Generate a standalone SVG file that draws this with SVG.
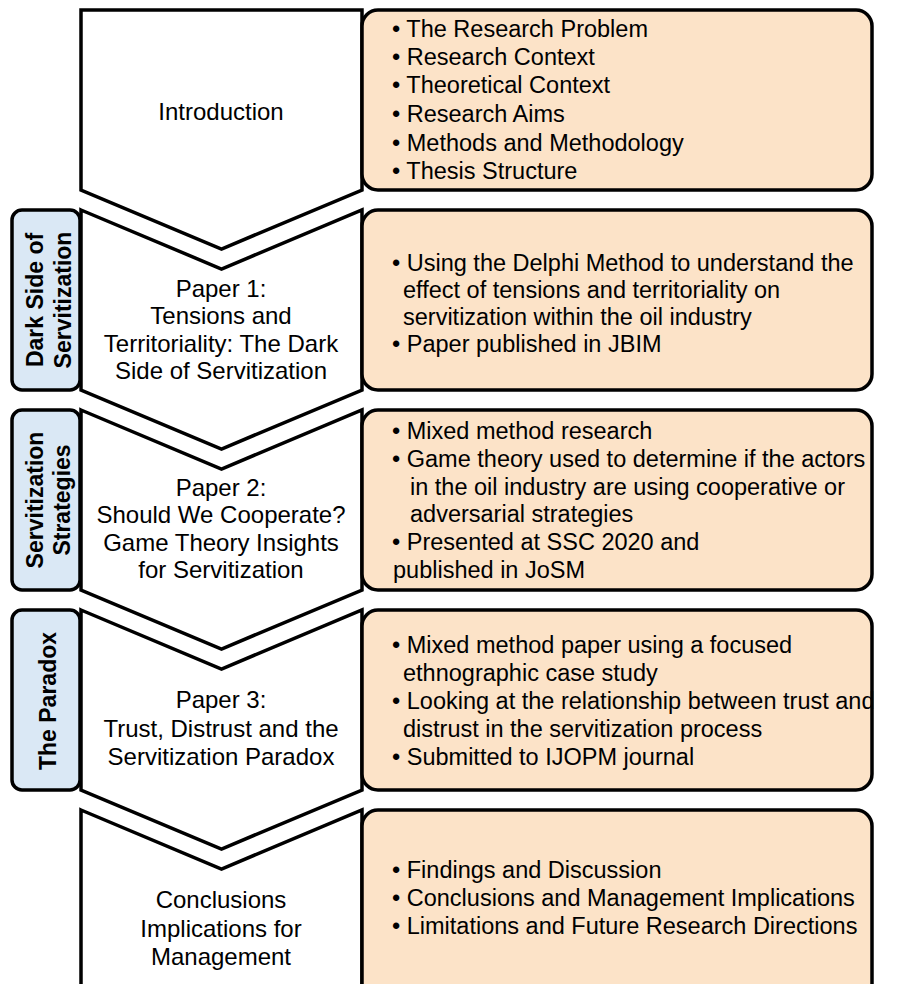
<svg xmlns="http://www.w3.org/2000/svg" width="897" height="984" viewBox="0 0 897 984">
<style>
.chev{fill:#ffffff;stroke:#000000;stroke-width:3.5;stroke-linejoin:miter}
.box{fill:#FCE3C8;stroke:#000000;stroke-width:3.5}
.lab{fill:#DAE8F5;stroke:#000000;stroke-width:3.5}
.ct{font-family:"Liberation Sans",Arial,sans-serif;font-size:24px;fill:#000;text-anchor:middle}
.bt{font-family:"Liberation Sans",Arial,sans-serif;font-size:23.5px;fill:#000}
.lt{font-family:"Liberation Sans",Arial,sans-serif;font-size:23px;font-weight:bold;fill:#000;text-anchor:middle}
</style>
<rect width="897" height="984" fill="#ffffff"/>

<g id="intro">
<polygon class="chev" points="81,10 362,10 362,190 221.5,249 81,190"/>
<text class="ct" x="221" y="120">Introduction</text>
</g>
<g id="intro-details">
<rect class="box" x="362" y="10" width="510" height="180" rx="16"/>
<text class="bt"><tspan x="392" y="37">• The Research Problem</tspan><tspan x="392" y="65">• Research Context</tspan><tspan x="392" y="93">• Theoretical Context</tspan><tspan x="392" y="122">• Research Aims</tspan><tspan x="392" y="151">• Methods and Methodology</tspan><tspan x="392" y="179">• Thesis Structure</tspan></text>
</g>

<g id="label-dark-side">
<rect class="lab" x="12" y="210" width="68" height="180" rx="10"/>
<text class="lt" transform="translate(43,300) rotate(-90)">Dark Side of</text>
<text class="lt" transform="translate(71,300) rotate(-90)">Servitization</text>
</g>
<g id="paper1">
<polygon class="chev" points="81,210 221.5,269 362,210 362,390 221.5,449 81,390"/>
<text class="ct"><tspan x="221" y="297">Paper 1:</tspan><tspan x="221" y="324">Tensions and</tspan><tspan x="221" y="352">Territoriality: The Dark</tspan><tspan x="221" y="379">Side of  Servitization</tspan></text>
</g>
<g id="paper1-details">
<rect class="box" x="362" y="210" width="510" height="180" rx="16"/>
<text class="bt"><tspan x="392" y="271">• Using the Delphi Method to understand the</tspan><tspan x="403" y="298">effect of tensions and territoriality on</tspan><tspan x="403" y="325">servitization within the oil industry</tspan><tspan x="392" y="352">• Paper published in JBIM</tspan></text>
</g>

<g id="label-strategies">
<rect class="lab" x="12" y="410" width="68" height="180" rx="10"/>
<text class="lt" transform="translate(43,500) rotate(-90)">Servitization</text>
<text class="lt" transform="translate(70,500) rotate(-90)">Strategies</text>
</g>
<g id="paper2">
<polygon class="chev" points="81,410 221.5,469 362,410 362,590 221.5,649 81,590"/>
<text class="ct"><tspan x="221" y="496">Paper 2:</tspan><tspan x="221" y="523">Should We Cooperate?</tspan><tspan x="221" y="551">Game Theory Insights</tspan><tspan x="221" y="578">for Servitization</tspan></text>
</g>
<g id="paper2-details">
<rect class="box" x="362" y="410" width="510" height="180" rx="16"/>
<text class="bt"><tspan x="392" y="439">• Mixed method research</tspan><tspan x="392" y="467">• Game theory used to determine if the actors</tspan><tspan x="410" y="495">in the oil industry are using cooperative or</tspan><tspan x="410" y="522">adversarial strategies</tspan><tspan x="392" y="550">• Presented at SSC 2020 and</tspan><tspan x="393" y="578">published in JoSM</tspan></text>
</g>

<g id="label-paradox">
<rect class="lab" x="12" y="610" width="68" height="180" rx="10"/>
<text class="lt" transform="translate(56,701) rotate(-90)">The Paradox</text>
</g>
<g id="paper3">
<polygon class="chev" points="81,610 221.5,669 362,610 362,790 221.5,849 81,790"/>
<text class="ct"><tspan x="221" y="708">Paper 3:</tspan><tspan x="221" y="737">Trust, Distrust and the</tspan><tspan x="221" y="765">Servitization Paradox</tspan></text>
</g>
<g id="paper3-details">
<rect class="box" x="362" y="610" width="510" height="180" rx="16"/>
<text class="bt"><tspan x="392" y="653">• Mixed method paper using a focused</tspan><tspan x="403" y="681">ethnographic case study</tspan><tspan x="392" y="709">• Looking at the relationship between trust and</tspan><tspan x="403" y="737">distrust in the servitization process</tspan><tspan x="392" y="765">• Submitted to IJOPM journal</tspan></text>
</g>

<g id="conclusions">
<polygon class="chev" points="81,810 221.5,869 362,810 362,1000 81,1000"/>
<text class="ct"><tspan x="221" y="908">Conclusions</tspan><tspan x="221" y="937">Implications for</tspan><tspan x="221" y="965">Management</tspan></text>
</g>
<g id="conclusions-details">
<rect class="box" x="362" y="810" width="510" height="200" rx="16"/>
<text class="bt"><tspan x="392" y="878">• Findings and Discussion</tspan><tspan x="392" y="906">• Conclusions and Management Implications</tspan><tspan x="392" y="934">• Limitations and Future Research Directions</tspan></text>
</g>
</svg>
